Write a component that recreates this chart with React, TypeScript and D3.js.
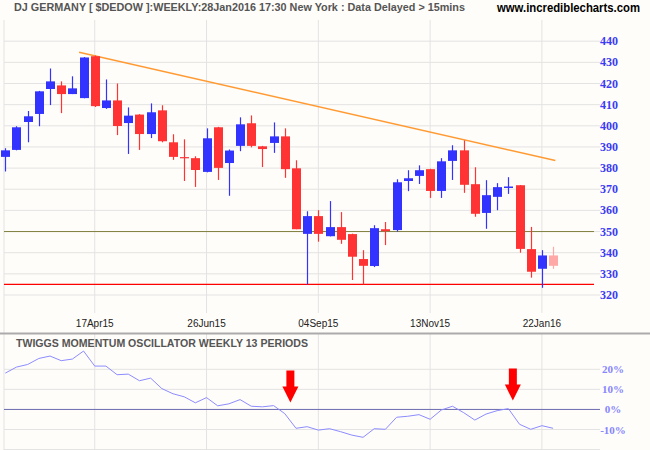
import React from "react";
import * as d3 from "d3";

const dates = [
  "20Feb15","27Feb15","06Mar15","13Mar15","20Mar15","27Mar15","03Apr15","10Apr15","17Apr15","24Apr15",
  "01May15","08May15","15May15","22May15","29May15","05Jun15","12Jun15","19Jun15","26Jun15","03Jul15",
  "10Jul15","17Jul15","24Jul15","31Jul15","07Aug15","14Aug15","21Aug15","28Aug15","04Sep15","11Sep15",
  "18Sep15","25Sep15","02Oct15","09Oct15","16Oct15","23Oct15","30Oct15","06Nov15","13Nov15","20Nov15",
  "27Nov15","04Dec15","11Dec15","18Dec15","25Dec15","01Jan16","08Jan16","15Jan16","22Jan16","29Jan16",
];

const open = [
  385.3,388.6,401.8,405.6,417.4,419.1,415.0,413.1,432.9,408.4,
  412.0,401.3,405.3,396.1,407.3,392.2,385.2,384.7,378.2,399.3,
  382.4,390.5,401.2,390.3,391.9,395.0,379.9,348.9,357.3,347.8,
  352.1,348.8,337.0,333.7,351.1,350.7,373.9,376.3,379.5,369.2,
  383.4,388.4,372.4,358.8,366.4,370.6,371.9,341.7,332.4,338.7,
];
const high = [
  389.4,399.8,407.0,416.5,427.1,421.0,423.4,432.5,433.2,421.9,
  420.0,408.7,405.5,410.6,409.7,396.0,393.6,385.6,398.8,399.5,
  388.8,404.0,404.9,390.5,401.6,398.8,383.7,359.6,360.1,364.4,
  359.2,349.0,341.2,353.0,354.5,374.7,379.0,381.3,379.7,384.7,
  390.8,393.1,380.4,374.3,372.9,375.7,372.0,352.2,341.2,342.8,
];
const low = [
  378.4,388.4,392.2,399.8,409.8,406.0,415.0,413.0,408.9,408.0,
  395.6,386.7,388.6,394.2,392.2,383.9,373.9,371.1,378.0,374.4,
  366.9,388.0,389.8,380.5,387.2,375.4,351.1,325.0,345.2,347.7,
  344.2,327.1,325.0,333.2,343.6,350.0,369.1,372.5,365.9,365.9,
  374.4,368.3,357.0,351.3,360.1,367.8,340.0,328.2,323.4,332.4,
];
const close = [
  388.4,399.3,404.5,416.3,421.0,415.0,417.7,432.3,409.3,412.0,
  399.9,404.8,396.1,406.4,392.7,385.3,384.9,379.1,394.1,380.1,
  388.3,400.7,390.5,389.0,395.0,379.5,351.1,357.3,348.9,352.1,
  346.1,338.1,333.8,351.6,350.2,373.3,375.2,379.0,369.2,383.2,
  388.4,372.1,358.4,367.2,371.0,371.3,341.8,331.0,338.7,333.8,
];

const momentum = [
  18.1,21.1,22.4,25.4,26.6,24.3,25.1,29.1,21.6,21.6,
  17.3,17.6,14.3,15.6,10.4,7.8,6.3,3.3,5.9,1.8,
  2.8,4.9,1.6,1.3,1.9,-2.1,-9.4,-8.6,-10.3,-9.6,
  -11.1,-12.8,-13.9,-9.6,-9.9,-3.9,-3.4,-2.6,-4.9,-0.3,
  1.6,-1.6,-5.3,-2.3,-0.6,0.4,-7.4,-9.9,-8.1,-9.4,
];

const dateTicks = ["17Apr15", "26Jun15", "04Sep15", "13Nov15", "22Jan16"];
const priceTicks = [320, 330, 340, 350, 360, 370, 380, 390, 400, 410, 420, 430, 440];
const oscTicks = [20, 10, 0, -10];
const supportLevels = [325, 350];
const trendIdx = [6.6, 49.2];
const trendPrice = [434.8, 383.6];
const arrowIdx = [25.5, 45.4];
const arrowTip = [3.4, 4.4];

const W = 650;
const H = 450;

export default function App() {
  const xi = d3.scaleLinear().domain([0, dates.length - 1]).range([5.3, 553.1]);
  const x = (d: string) => xi(dates.indexOf(d));
  const y = d3.scaleLinear().domain([320, 440]).range([295, 41.2]);
  const yo = d3.scaleLinear().domain([-10, 20]).range([429.5, 369.3]);

  const plotL = 4;
  const plotR = 594;
  const pTop = 20;
  const pBot = 313;
  const oTop = 334;

  const candleW = 9;
  const blue = "#3333FF";
  const red = "#FF3333";
  const pink = "#FFA8A8";

  const oscLine = d3
    .line<number>()
    .x((_, i) => xi(i))
    .y((v) => yo(v));

  const trend = d3
    .line<number>()
    .x((v) => xi(v))
    .y((_, i) => y(trendPrice[i]));

  const font = "'Liberation Sans', Arial, sans-serif";
  const serif = "'Liberation Serif', 'Times New Roman', serif";

  return (
    <svg
      width={W}
      height={H}
      style={{ position: "fixed", left: 0, top: 0, background: "#FFFDF9" }}
    >
      <rect x={0} y={0} width={W} height={H} fill="#FFFDF9" />
      {/* header */}
      <text x={14} y={11} fontFamily={font} fontSize={11} fontWeight="bold" fill="#555" textLength={451} lengthAdjust="spacingAndGlyphs">
        DJ GERMANY [ $DEDOW ]:WEEKLY:28Jan2016 17:30 New York : Data Delayed &gt; 15mins
      </text>
      <text x={497} y={12} fontFamily={font} fontSize={12} fontWeight="bold" fill="#000" textLength={143} lengthAdjust="spacingAndGlyphs">
        www.incrediblecharts.com
      </text>

      {/* price panel grid */}
      <line x1={plotL} x2={plotL} y1={pTop} y2={H} stroke="#E3E3E3" strokeWidth={1} />
      {priceTicks.map((t) => (
        <g key={"pt" + t}>
          <line x1={plotL} x2={600} y1={y(t)} y2={y(t)} stroke="#E3E3E3" strokeWidth={1} />
          <text x={600} y={y(t) + 4} fontFamily={serif} fontSize={12} fontWeight="bold" fill="#3B3BF5">
            {t}
          </text>
        </g>
      ))}
      {dateTicks.map((d) => (
        <g key={"dt" + d}>
          <line x1={x(d)} x2={x(d)} y1={pTop} y2={pBot} stroke="#E3E3E3" strokeWidth={1} />
          <line x1={x(d)} x2={x(d)} y1={oTop} y2={H} stroke="#E3E3E3" strokeWidth={1} />
          <text x={x(d)} y={327} textAnchor="middle" fontFamily={font} fontSize={10} fill="#222">
            {d}
          </text>
        </g>
      ))}

      {/* support lines */}
      <line x1={plotL} x2={plotR} y1={y(supportLevels[1])} y2={y(supportLevels[1])} stroke="#7F7F3F" strokeWidth={1} />
      <line x1={plotL} x2={plotR} y1={y(supportLevels[0])} y2={y(supportLevels[0])} stroke="#FF0000" strokeWidth={1.2} />

      {/* trendline */}
      <path d={trend(trendIdx) || ""} fill="none" stroke="#FF9A33" strokeWidth={1.5} />

      {/* candles */}
      {dates.map((d, i) => {
        const last = i === dates.length - 1;
        const col = last ? pink : close[i] >= open[i] ? blue : red;
        const cx = Math.round(x(d)) + 0.5;
        const top = y(Math.max(open[i], close[i]));
        const bot = y(Math.min(open[i], close[i]));
        return (
          <g key={d}>
            <line x1={cx} x2={cx} y1={y(high[i])} y2={y(low[i])} stroke={col} strokeWidth={1.2} />
            <rect x={cx - candleW / 2} y={top} width={candleW} height={Math.max(1.2, bot - top)} fill={col} />
          </g>
        );
      })}

      {/* oscillator panel */}
      <rect x={0} y={oTop - 1.5} width={W} height={2} fill="#ABABAB" />
      {oscTicks.map((t) => (
        <g key={"ot" + t}>
          <line x1={plotL} x2={600} y1={yo(t)} y2={yo(t)} stroke={t === 0 ? "#6A6AB0" : "#E3E3E3"} strokeWidth={1} />
          <text x={613} y={yo(t) + 4} textAnchor="middle" fontFamily={serif} fontSize={11} fontWeight="bold" fill="#8585FF">
            {t + "%"}
          </text>
        </g>
      ))}
      <line x1={plotL} x2={600} y1={yo(-20)} y2={yo(-20)} stroke="#E3E3E3" strokeWidth={1} />
      <text x={16} y={347} fontFamily={font} fontSize={11} fontWeight="bold" fill="#555" textLength={292} lengthAdjust="spacingAndGlyphs">
        TWIGGS MOMENTUM OSCILLATOR WEEKLY 13 PERIODS
      </text>
      <path d={oscLine(momentum) || ""} fill="none" stroke="#8C8CFF" strokeWidth={1} />

      {/* arrows */}
      {arrowIdx.map((a, i) => {
        const ax = xi(a);
        const tip = yo(arrowTip[i]);
        const path = `M${ax - 4},${tip - 32} L${ax + 4},${tip - 32} L${ax + 4},${tip - 16} L${ax + 8},${tip - 16} L${ax},${tip} L${ax - 8},${tip - 16} L${ax - 4},${tip - 16} Z`;
        return <path key={"ar" + i} d={path} fill="#FF0000" />;
      })}
    </svg>
  );
}
